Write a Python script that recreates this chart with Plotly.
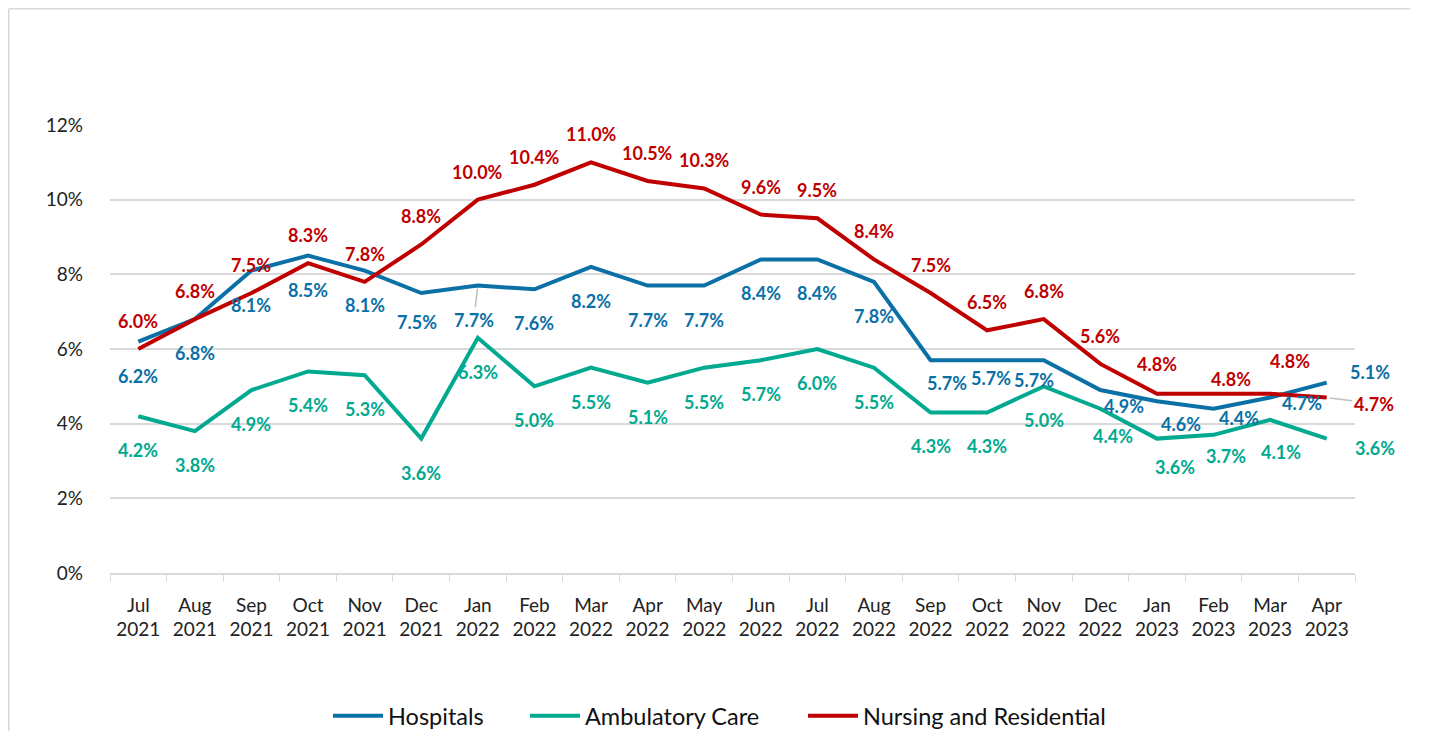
import plotly.graph_objects as go

months = ["Jul<br>2021", "Aug<br>2021", "Sep<br>2021", "Oct<br>2021", "Nov<br>2021", "Dec<br>2021",
          "Jan<br>2022", "Feb<br>2022", "Mar<br>2022", "Apr<br>2022", "May<br>2022", "Jun<br>2022",
          "Jul<br>2022", "Aug<br>2022", "Sep<br>2022", "Oct<br>2022", "Nov<br>2022", "Dec<br>2022",
          "Jan<br>2023", "Feb<br>2023", "Mar<br>2023", "Apr<br>2023"]

hospitals = [6.2, 6.8, 8.1, 8.5, 8.1, 7.5, 7.7, 7.6, 8.2, 7.7, 7.7, 8.4,
             8.4, 7.8, 5.7, 5.7, 5.7, 4.9, 4.6, 4.4, 4.7, 5.1]
ambulatory = [4.2, 3.8, 4.9, 5.4, 5.3, 3.6, 6.3, 5.0, 5.5, 5.1, 5.5, 5.7,
              6.0, 5.5, 4.3, 4.3, 5.0, 4.4, 3.6, 3.7, 4.1, 3.6]
nursing = [6.0, 6.8, 7.5, 8.3, 7.8, 8.8, 10.0, 10.4, 11.0, 10.5, 10.3, 9.6,
           9.5, 8.4, 7.5, 6.5, 6.8, 5.6, 4.8, 4.8, 4.8, 4.7]

series_names = ["Hospitals", "Ambulatory Care", "Nursing and Residential"]
colors = ["#0A70A6", "#00A98F", "#C00000"]

# ---- styling: label offsets in pixels (dx right, dy down) ----
n = len(months)
hosp_off = [(0, 34)] * n
for i, o in {5: (-4, 29), 6: (-4, 34), 14: (16, 23), 15: (4, 18), 16: (-10, 20), 17: (24, 16),
             18: (24, 23), 19: (25, 9), 20: (32, 5), 21: (43, -11)}.items():
    hosp_off[i] = o
amb_off = [(0, 34)] * n
for i, o in {17: (13, 27), 18: (18, 28), 19: (12, 21), 20: (11, 32), 21: (48, 9)}.items():
    amb_off[i] = o
nur_off = [(0, -28)] * n
for i, o in {18: (0, -30), 19: (17, -15), 20: (20, -33), 21: (47, 6)}.items():
    nur_off[i] = o
leaders = {(0, 6), (2, 21)}

# layout geometry (figure px; page has 8px body margin)
W, H = 1429, 731
ML, MT, MB = 102, 117, 166
MR = W - 1347
PW, PH = W - ML - MR, H - MT - MB

fig = go.Figure()
all_vals = [hospitals, ambulatory, nursing]
all_offs = [hosp_off, amb_off, nur_off]
legend_ids = ["legend", "legend2", "legend3"]
legend_x = [328, 525, 803]  # page px of legend left edge
for name, vals, col, lid in zip(series_names, all_vals, colors, legend_ids):
    fig.add_trace(go.Scatter(x=months, y=vals, mode="lines", name=name, legend=lid,
                             line=dict(color=col, width=4), hoverinfo="skip"))

annotations = []
for s, (vals, offs, col) in enumerate(zip(all_vals, all_offs, colors)):
    for i, v in enumerate(vals):
        dx, dy = offs[i]
        f = dict(family="Lato", size=18, color=col, weight="bold")
        if (s, i) in leaders:
            annotations.append(dict(x=months[i], y=v, xref="x", yref="y", text=f"{v:.1f}%",
                                    showarrow=True, ax=dx, ay=dy, arrowhead=0, arrowwidth=1.5,
                                    arrowcolor="#BFBFBF", standoff=3, font=f))
        else:
            annotations.append(dict(x=months[i], y=v, xref="x", yref="y", text=f"{v:.1f}%",
                                    showarrow=False, xshift=dx, yshift=-dy, font=f))

leg_y = -(708 - (H - MB)) / PH
legend_common = dict(orientation="h", yanchor="middle", y=leg_y, xanchor="left",
                     font=dict(family="Lato", size=23.5, color="#111111"), itemwidth=50,
                     bgcolor="rgba(0,0,0,0)")
legends = {}
for lid, lx in zip(legend_ids, legend_x):
    d = dict(legend_common)
    d["x"] = (lx - 8 - ML) / PW
    legends[lid] = d

fig.update_layout(
    width=W, height=H,
    margin=dict(l=ML, r=MR, t=MT, b=MB, autoexpand=False),
    paper_bgcolor="white", plot_bgcolor="white",
    font=dict(family="Lato", size=19, color="#222222"),
    showlegend=True,
    annotations=annotations,
    **legends,
)
# chart frame (top and left border)
fx0 = (0.75 - ML) / PW
ftop = (H - MB - 0.75) / PH
fig.add_shape(type="line", xref="paper", yref="paper",
              x0=fx0, x1=(1402 - ML) / PW, y0=ftop, y1=ftop,
              line=dict(color="#D9D9D9", width=1.5))
fig.add_shape(type="line", xref="paper", yref="paper",
              x0=fx0, x1=fx0, y0=ftop, y1=-(MB + 10) / PH,
              line=dict(color="#D9D9D9", width=1.5))

fig.update_xaxes(type="category", range=[-0.5, n - 0.5], showgrid=False,
                 showline=True, linecolor="#D9D9D9", linewidth=1.5,
                 ticks="outside", tickson="boundaries", ticklen=7, tickcolor="#D9D9D9",
                 ticklabelstandoff=14,
                 tickfont=dict(family="Lato", size=19, color="#222222"))
fig.update_yaxes(range=[0, 12], dtick=2, ticksuffix="%", showgrid=True,
                 gridcolor="#D9D9D9", gridwidth=1.5, zeroline=False, showline=False,
                 ticklabelstandoff=26,
                 tickfont=dict(family="Lato", size=19, color="#222222"))

fig.write_html("out.html")
